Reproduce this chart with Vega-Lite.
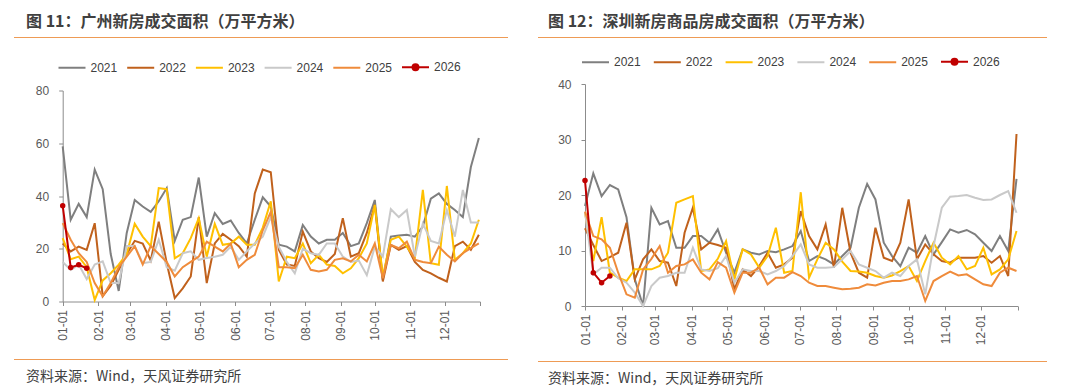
{
"$schema": "https://vega.github.io/schema/vega-lite/v6.json",
"background": "white",
"padding": {"left": 14, "top": 14, "right": 0, "bottom": 0},
"spacing": 30,
"resolve": {"scale": {"color": "independent"}, "legend": {"color": "independent"}},
"datasets": {
"gz": [
{"s":"2021","d":0,"v":58.8},{"s":"2021","d":7,"v":31},{"s":"2021","d":14,"v":37},{"s":"2021","d":21,"v":32},{"s":"2021","d":28,"v":50},{"s":"2021","d":35,"v":42.6},{"s":"2021","d":42,"v":18},{"s":"2021","d":49,"v":4},{"s":"2021","d":56,"v":26},{"s":"2021","d":63,"v":38.5},{"s":"2021","d":70,"v":36},{"s":"2021","d":77,"v":34},{"s":"2021","d":84,"v":38},{"s":"2021","d":91,"v":43},{"s":"2021","d":98,"v":23},{"s":"2021","d":105,"v":31},{"s":"2021","d":112,"v":32},{"s":"2021","d":119,"v":47},{"s":"2021","d":126,"v":24.6},{"s":"2021","d":133,"v":33.5},{"s":"2021","d":140,"v":29.4},{"s":"2021","d":147,"v":30.7},{"s":"2021","d":154,"v":26},{"s":"2021","d":161,"v":22},{"s":"2021","d":168,"v":31},{"s":"2021","d":175,"v":39.5},{"s":"2021","d":182,"v":36},{"s":"2021","d":189,"v":21.5},{"s":"2021","d":196,"v":20.8},{"s":"2021","d":203,"v":19},{"s":"2021","d":210,"v":29},{"s":"2021","d":217,"v":24.6},{"s":"2021","d":224,"v":22},{"s":"2021","d":231,"v":23.4},{"s":"2021","d":238,"v":23.4},{"s":"2021","d":245,"v":26},{"s":"2021","d":252,"v":21},{"s":"2021","d":259,"v":22},{"s":"2021","d":266,"v":29.7},{"s":"2021","d":273,"v":38.5},{"s":"2021","d":280,"v":8.2},{"s":"2021","d":287,"v":24.6},{"s":"2021","d":294,"v":25},{"s":"2021","d":301,"v":25.3},{"s":"2021","d":308,"v":24.6},{"s":"2021","d":315,"v":28.4},{"s":"2021","d":322,"v":39},{"s":"2021","d":329,"v":41},{"s":"2021","d":336,"v":37},{"s":"2021","d":343,"v":34.7},{"s":"2021","d":350,"v":32},{"s":"2021","d":357,"v":51},{"s":"2021","d":364,"v":62},
{"s":"2022","d":0,"v":22},{"s":"2022","d":7,"v":19},{"s":"2022","d":14,"v":20.8},{"s":"2022","d":21,"v":19.6},{"s":"2022","d":28,"v":29.7},{"s":"2022","d":35,"v":2},{"s":"2022","d":42,"v":6},{"s":"2022","d":49,"v":12},{"s":"2022","d":56,"v":18},{"s":"2022","d":63,"v":23},{"s":"2022","d":70,"v":22},{"s":"2022","d":77,"v":15.5},{"s":"2022","d":84,"v":30.3},{"s":"2022","d":91,"v":14.5},{"s":"2022","d":98,"v":1.3},{"s":"2022","d":105,"v":5},{"s":"2022","d":112,"v":9.5},{"s":"2022","d":119,"v":32},{"s":"2022","d":126,"v":7},{"s":"2022","d":133,"v":22},{"s":"2022","d":140,"v":25.6},{"s":"2022","d":147,"v":23.4},{"s":"2022","d":154,"v":21},{"s":"2022","d":161,"v":17},{"s":"2022","d":168,"v":41},{"s":"2022","d":175,"v":50},{"s":"2022","d":182,"v":49},{"s":"2022","d":189,"v":19.6},{"s":"2022","d":196,"v":14},{"s":"2022","d":203,"v":13.5},{"s":"2022","d":210,"v":26.5},{"s":"2022","d":217,"v":19},{"s":"2022","d":224,"v":16.4},{"s":"2022","d":231,"v":15},{"s":"2022","d":238,"v":18},{"s":"2022","d":245,"v":31.6},{"s":"2022","d":252,"v":17},{"s":"2022","d":259,"v":18.3},{"s":"2022","d":266,"v":26},{"s":"2022","d":273,"v":36.6},{"s":"2022","d":280,"v":7.6},{"s":"2022","d":287,"v":21.5},{"s":"2022","d":294,"v":19.6},{"s":"2022","d":301,"v":21},{"s":"2022","d":308,"v":15},{"s":"2022","d":315,"v":12},{"s":"2022","d":322,"v":10.7},{"s":"2022","d":329,"v":9},{"s":"2022","d":336,"v":7.6},{"s":"2022","d":343,"v":21},{"s":"2022","d":350,"v":22.7},{"s":"2022","d":357,"v":19.6},{"s":"2022","d":364,"v":25.3},
{"s":"2023","d":0,"v":24},{"s":"2023","d":7,"v":16},{"s":"2023","d":14,"v":17},{"s":"2023","d":21,"v":13},{"s":"2023","d":28,"v":0.6},{"s":"2023","d":35,"v":8},{"s":"2023","d":42,"v":10.7},{"s":"2023","d":49,"v":14},{"s":"2023","d":56,"v":18},{"s":"2023","d":63,"v":29.5},{"s":"2023","d":70,"v":24.6},{"s":"2023","d":77,"v":21},{"s":"2023","d":84,"v":43},{"s":"2023","d":91,"v":42.6},{"s":"2023","d":98,"v":16.4},{"s":"2023","d":105,"v":18.3},{"s":"2023","d":112,"v":24},{"s":"2023","d":119,"v":31.6},{"s":"2023","d":126,"v":17},{"s":"2023","d":133,"v":29.4},{"s":"2023","d":140,"v":21.5},{"s":"2023","d":147,"v":22},{"s":"2023","d":154,"v":24.6},{"s":"2023","d":161,"v":21.5},{"s":"2023","d":168,"v":21.5},{"s":"2023","d":175,"v":28},{"s":"2023","d":182,"v":38},{"s":"2023","d":189,"v":7.6},{"s":"2023","d":196,"v":17},{"s":"2023","d":203,"v":16.4},{"s":"2023","d":210,"v":22},{"s":"2023","d":217,"v":14.5},{"s":"2023","d":224,"v":17.7},{"s":"2023","d":231,"v":14},{"s":"2023","d":238,"v":13.5},{"s":"2023","d":245,"v":10.7},{"s":"2023","d":252,"v":12.6},{"s":"2023","d":259,"v":16.4},{"s":"2023","d":266,"v":22},{"s":"2023","d":273,"v":36.6},{"s":"2023","d":280,"v":9.5},{"s":"2023","d":287,"v":23.4},{"s":"2023","d":294,"v":24.6},{"s":"2023","d":301,"v":20.8},{"s":"2023","d":308,"v":16.4},{"s":"2023","d":315,"v":42.3},{"s":"2023","d":322,"v":14.5},{"s":"2023","d":329,"v":13.9},{"s":"2023","d":336,"v":43.8},{"s":"2023","d":343,"v":15.8},{"s":"2023","d":350,"v":18.3},{"s":"2023","d":357,"v":22},{"s":"2023","d":364,"v":31},
{"s":"2024","d":0,"v":15},{"s":"2024","d":7,"v":12},{"s":"2024","d":14,"v":14},{"s":"2024","d":21,"v":8.5},{"s":"2024","d":28,"v":14},{"s":"2024","d":35,"v":15.2},{"s":"2024","d":42,"v":7},{"s":"2024","d":49,"v":7},{"s":"2024","d":56,"v":21},{"s":"2024","d":63,"v":21},{"s":"2024","d":70,"v":14.5},{"s":"2024","d":77,"v":15},{"s":"2024","d":84,"v":23.4},{"s":"2024","d":91,"v":13},{"s":"2024","d":98,"v":11.7},{"s":"2024","d":105,"v":18.3},{"s":"2024","d":112,"v":19},{"s":"2024","d":119,"v":15.8},{"s":"2024","d":126,"v":16.5},{"s":"2024","d":133,"v":17},{"s":"2024","d":140,"v":17.7},{"s":"2024","d":147,"v":20.8},{"s":"2024","d":154,"v":15.8},{"s":"2024","d":161,"v":19},{"s":"2024","d":168,"v":22},{"s":"2024","d":175,"v":24.6},{"s":"2024","d":182,"v":32},{"s":"2024","d":189,"v":20.8},{"s":"2024","d":196,"v":15},{"s":"2024","d":203,"v":10.7},{"s":"2024","d":210,"v":20},{"s":"2024","d":217,"v":18.3},{"s":"2024","d":224,"v":17.7},{"s":"2024","d":231,"v":22},{"s":"2024","d":238,"v":22},{"s":"2024","d":245,"v":17},{"s":"2024","d":252,"v":15},{"s":"2024","d":259,"v":15.5},{"s":"2024","d":266,"v":10},{"s":"2024","d":273,"v":20.8},{"s":"2024","d":280,"v":17},{"s":"2024","d":287,"v":35},{"s":"2024","d":294,"v":32},{"s":"2024","d":301,"v":34.7},{"s":"2024","d":308,"v":17},{"s":"2024","d":315,"v":29.6},{"s":"2024","d":322,"v":23},{"s":"2024","d":329,"v":22},{"s":"2024","d":336,"v":34.7},{"s":"2024","d":343,"v":24.6},{"s":"2024","d":350,"v":42.3},{"s":"2024","d":357,"v":30},{"s":"2024","d":364,"v":30},
{"s":"2025","d":0,"v":29.7},{"s":"2025","d":7,"v":23.4},{"s":"2025","d":14,"v":18.3},{"s":"2025","d":21,"v":15},{"s":"2025","d":28,"v":7},{"s":"2025","d":35,"v":2},{"s":"2025","d":42,"v":7},{"s":"2025","d":49,"v":13},{"s":"2025","d":56,"v":17},{"s":"2025","d":63,"v":21},{"s":"2025","d":70,"v":14},{"s":"2025","d":77,"v":21},{"s":"2025","d":84,"v":18},{"s":"2025","d":91,"v":15},{"s":"2025","d":98,"v":9.5},{"s":"2025","d":105,"v":13},{"s":"2025","d":112,"v":15},{"s":"2025","d":119,"v":17},{"s":"2025","d":126,"v":22.7},{"s":"2025","d":133,"v":20.8},{"s":"2025","d":140,"v":19},{"s":"2025","d":147,"v":22},{"s":"2025","d":154,"v":13},{"s":"2025","d":161,"v":15.8},{"s":"2025","d":168,"v":17.7},{"s":"2025","d":175,"v":27},{"s":"2025","d":182,"v":34},{"s":"2025","d":189,"v":13},{"s":"2025","d":196,"v":13},{"s":"2025","d":203,"v":12.6},{"s":"2025","d":210,"v":17.7},{"s":"2025","d":217,"v":12},{"s":"2025","d":224,"v":11.4},{"s":"2025","d":231,"v":12},{"s":"2025","d":238,"v":15.8},{"s":"2025","d":245,"v":16.4},{"s":"2025","d":252,"v":15.2},{"s":"2025","d":259,"v":17.7},{"s":"2025","d":266,"v":15.2},{"s":"2025","d":273,"v":22},{"s":"2025","d":280,"v":8.8},{"s":"2025","d":287,"v":21.5},{"s":"2025","d":294,"v":20.2},{"s":"2025","d":301,"v":22.7},{"s":"2025","d":308,"v":15.8},{"s":"2025","d":315,"v":15},{"s":"2025","d":322,"v":14.5},{"s":"2025","d":329,"v":20.8},{"s":"2025","d":336,"v":17.7},{"s":"2025","d":343,"v":15.2},{"s":"2025","d":350,"v":18.3},{"s":"2025","d":357,"v":20.2},{"s":"2025","d":364,"v":22},
{"s":"2026","d":0,"v":36.3},{"s":"2026","d":7,"v":12.9},{"s":"2026","d":14,"v":13.9},{"s":"2026","d":21,"v":12.6}
],
"sz": [
{"s":"2021","d":0,"v":18},{"s":"2021","d":7,"v":23.9},{"s":"2021","d":14,"v":19.8},{"s":"2021","d":21,"v":21.8},{"s":"2021","d":28,"v":21},{"s":"2021","d":35,"v":16},{"s":"2021","d":42,"v":4.8},{"s":"2021","d":49,"v":0},{"s":"2021","d":56,"v":17.7},{"s":"2021","d":63,"v":14.7},{"s":"2021","d":70,"v":15.3},{"s":"2021","d":77,"v":10.5},{"s":"2021","d":84,"v":10.5},{"s":"2021","d":91,"v":12.6},{"s":"2021","d":98,"v":12.6},{"s":"2021","d":105,"v":11.4},{"s":"2021","d":112,"v":13.8},{"s":"2021","d":119,"v":9.6},{"s":"2021","d":126,"v":6},{"s":"2021","d":133,"v":10.2},{"s":"2021","d":140,"v":9.6},{"s":"2021","d":147,"v":9.3},{"s":"2021","d":154,"v":9.9},{"s":"2021","d":161,"v":9.7},{"s":"2021","d":168,"v":10.2},{"s":"2021","d":175,"v":10.8},{"s":"2021","d":182,"v":13.5},{"s":"2021","d":189,"v":8.1},{"s":"2021","d":196,"v":9},{"s":"2021","d":203,"v":8.4},{"s":"2021","d":210,"v":7.5},{"s":"2021","d":217,"v":9},{"s":"2021","d":224,"v":10.5},{"s":"2021","d":231,"v":17.7},{"s":"2021","d":238,"v":22},{"s":"2021","d":245,"v":19.2},{"s":"2021","d":252,"v":11.4},{"s":"2021","d":259,"v":9},{"s":"2021","d":266,"v":7.2},{"s":"2021","d":273,"v":10.5},{"s":"2021","d":280,"v":9.6},{"s":"2021","d":287,"v":12.6},{"s":"2021","d":294,"v":9.3},{"s":"2021","d":301,"v":11.5},{"s":"2021","d":308,"v":13.8},{"s":"2021","d":315,"v":13.2},{"s":"2021","d":322,"v":13.7},{"s":"2021","d":329,"v":12.9},{"s":"2021","d":336,"v":11.4},{"s":"2021","d":343,"v":9.9},{"s":"2021","d":350,"v":12.6},{"s":"2021","d":357,"v":9.9},{"s":"2021","d":364,"v":22.9},
{"s":"2022","d":0,"v":14},{"s":"2022","d":7,"v":11},{"s":"2022","d":14,"v":8.1},{"s":"2022","d":21,"v":8.8},{"s":"2022","d":28,"v":9.6},{"s":"2022","d":35,"v":15},{"s":"2022","d":42,"v":4.8},{"s":"2022","d":49,"v":8.4},{"s":"2022","d":56,"v":10.2},{"s":"2022","d":63,"v":8.1},{"s":"2022","d":70,"v":7.8},{"s":"2022","d":77,"v":3.6},{"s":"2022","d":84,"v":13.2},{"s":"2022","d":91,"v":17.7},{"s":"2022","d":98,"v":10.2},{"s":"2022","d":105,"v":11.4},{"s":"2022","d":112,"v":11},{"s":"2022","d":119,"v":10.5},{"s":"2022","d":126,"v":3},{"s":"2022","d":133,"v":6.6},{"s":"2022","d":140,"v":5.4},{"s":"2022","d":147,"v":7.2},{"s":"2022","d":154,"v":9.6},{"s":"2022","d":161,"v":6.9},{"s":"2022","d":168,"v":7.5},{"s":"2022","d":175,"v":8.7},{"s":"2022","d":182,"v":17.1},{"s":"2022","d":189,"v":12.6},{"s":"2022","d":196,"v":10.2},{"s":"2022","d":203,"v":14.7},{"s":"2022","d":210,"v":6.9},{"s":"2022","d":217,"v":17.7},{"s":"2022","d":224,"v":9.6},{"s":"2022","d":231,"v":6},{"s":"2022","d":238,"v":5.1},{"s":"2022","d":245,"v":14.1},{"s":"2022","d":252,"v":8.7},{"s":"2022","d":259,"v":8.1},{"s":"2022","d":266,"v":11.4},{"s":"2022","d":273,"v":19.2},{"s":"2022","d":280,"v":8.4},{"s":"2022","d":287,"v":11.1},{"s":"2022","d":294,"v":9.3},{"s":"2022","d":301,"v":8.1},{"s":"2022","d":308,"v":7.8},{"s":"2022","d":315,"v":8.7},{"s":"2022","d":322,"v":8.7},{"s":"2022","d":329,"v":8.7},{"s":"2022","d":336,"v":9},{"s":"2022","d":343,"v":7.8},{"s":"2022","d":350,"v":9},{"s":"2022","d":357,"v":5.4},{"s":"2022","d":364,"v":31},
{"s":"2023","d":0,"v":16.8},{"s":"2023","d":7,"v":8.1},{"s":"2023","d":14,"v":16},{"s":"2023","d":21,"v":6},{"s":"2023","d":28,"v":5.1},{"s":"2023","d":35,"v":4.5},{"s":"2023","d":42,"v":6.6},{"s":"2023","d":49,"v":6.6},{"s":"2023","d":56,"v":6.6},{"s":"2023","d":63,"v":7.2},{"s":"2023","d":70,"v":9.6},{"s":"2023","d":77,"v":18.6},{"s":"2023","d":84,"v":19.2},{"s":"2023","d":91,"v":19.8},{"s":"2023","d":98,"v":6.3},{"s":"2023","d":105,"v":6.6},{"s":"2023","d":112,"v":8.5},{"s":"2023","d":119,"v":11.7},{"s":"2023","d":126,"v":4.8},{"s":"2023","d":133,"v":10.2},{"s":"2023","d":140,"v":9.3},{"s":"2023","d":147,"v":6.9},{"s":"2023","d":154,"v":9},{"s":"2023","d":161,"v":14.1},{"s":"2023","d":168,"v":6},{"s":"2023","d":175,"v":6.3},{"s":"2023","d":182,"v":20.5},{"s":"2023","d":189,"v":5.1},{"s":"2023","d":196,"v":8.4},{"s":"2023","d":203,"v":11.4},{"s":"2023","d":210,"v":10.2},{"s":"2023","d":217,"v":8},{"s":"2023","d":224,"v":6.3},{"s":"2023","d":231,"v":6.2},{"s":"2023","d":238,"v":6},{"s":"2023","d":245,"v":5.4},{"s":"2023","d":252,"v":5.1},{"s":"2023","d":259,"v":5.5},{"s":"2023","d":266,"v":6.3},{"s":"2023","d":273,"v":7.2},{"s":"2023","d":280,"v":4.5},{"s":"2023","d":287,"v":8.1},{"s":"2023","d":294,"v":11.4},{"s":"2023","d":301,"v":8.7},{"s":"2023","d":308,"v":7.5},{"s":"2023","d":315,"v":9},{"s":"2023","d":322,"v":6.6},{"s":"2023","d":329,"v":7.2},{"s":"2023","d":336,"v":10.5},{"s":"2023","d":343,"v":5.7},{"s":"2023","d":350,"v":6.6},{"s":"2023","d":357,"v":8.4},{"s":"2023","d":364,"v":13.5},
{"s":"2024","d":0,"v":17},{"s":"2024","d":7,"v":5.7},{"s":"2024","d":14,"v":6.9},{"s":"2024","d":21,"v":6.9},{"s":"2024","d":28,"v":5},{"s":"2024","d":35,"v":4.2},{"s":"2024","d":42,"v":2.4},{"s":"2024","d":49,"v":0},{"s":"2024","d":56,"v":3.6},{"s":"2024","d":63,"v":5.1},{"s":"2024","d":70,"v":5.4},{"s":"2024","d":77,"v":6},{"s":"2024","d":84,"v":6},{"s":"2024","d":91,"v":10.5},{"s":"2024","d":98,"v":6.6},{"s":"2024","d":105,"v":6.3},{"s":"2024","d":112,"v":6.8},{"s":"2024","d":119,"v":9},{"s":"2024","d":126,"v":4.2},{"s":"2024","d":133,"v":6.6},{"s":"2024","d":140,"v":6.3},{"s":"2024","d":147,"v":6.3},{"s":"2024","d":154,"v":5.7},{"s":"2024","d":161,"v":6.3},{"s":"2024","d":168,"v":7.2},{"s":"2024","d":175,"v":9},{"s":"2024","d":182,"v":11.1},{"s":"2024","d":189,"v":7.5},{"s":"2024","d":196,"v":6.9},{"s":"2024","d":203,"v":6.9},{"s":"2024","d":210,"v":7},{"s":"2024","d":217,"v":8.4},{"s":"2024","d":224,"v":9.9},{"s":"2024","d":231,"v":7.5},{"s":"2024","d":238,"v":6.9},{"s":"2024","d":245,"v":6.3},{"s":"2024","d":252,"v":5.1},{"s":"2024","d":259,"v":6},{"s":"2024","d":266,"v":5.4},{"s":"2024","d":273,"v":7.2},{"s":"2024","d":280,"v":8.4},{"s":"2024","d":287,"v":2.1},{"s":"2024","d":294,"v":10.8},{"s":"2024","d":301,"v":17.7},{"s":"2024","d":308,"v":19.7},{"s":"2024","d":315,"v":19.8},{"s":"2024","d":322,"v":20},{"s":"2024","d":329,"v":19.5},{"s":"2024","d":336,"v":19.1},{"s":"2024","d":343,"v":19.2},{"s":"2024","d":350,"v":20},{"s":"2024","d":357,"v":20.7},{"s":"2024","d":364,"v":16.8},
{"s":"2025","d":0,"v":17},{"s":"2025","d":7,"v":12.6},{"s":"2025","d":14,"v":12},{"s":"2025","d":21,"v":10.5},{"s":"2025","d":28,"v":6},{"s":"2025","d":35,"v":2.1},{"s":"2025","d":42,"v":1.5},{"s":"2025","d":49,"v":6.6},{"s":"2025","d":56,"v":8.5},{"s":"2025","d":63,"v":10.8},{"s":"2025","d":70,"v":6},{"s":"2025","d":77,"v":7.2},{"s":"2025","d":84,"v":7.5},{"s":"2025","d":91,"v":8.4},{"s":"2025","d":98,"v":6},{"s":"2025","d":105,"v":4.8},{"s":"2025","d":112,"v":7.9},{"s":"2025","d":119,"v":6.9},{"s":"2025","d":126,"v":2.4},{"s":"2025","d":133,"v":6},{"s":"2025","d":140,"v":6},{"s":"2025","d":147,"v":6.9},{"s":"2025","d":154,"v":3.9},{"s":"2025","d":161,"v":5.1},{"s":"2025","d":168,"v":5.1},{"s":"2025","d":175,"v":6.1},{"s":"2025","d":182,"v":5.4},{"s":"2025","d":189,"v":4.2},{"s":"2025","d":196,"v":3.6},{"s":"2025","d":203,"v":3.6},{"s":"2025","d":210,"v":3.3},{"s":"2025","d":217,"v":3},{"s":"2025","d":224,"v":3.1},{"s":"2025","d":231,"v":3.3},{"s":"2025","d":238,"v":3.9},{"s":"2025","d":245,"v":3.7},{"s":"2025","d":252,"v":4.2},{"s":"2025","d":259,"v":4.5},{"s":"2025","d":266,"v":4.5},{"s":"2025","d":273,"v":4.8},{"s":"2025","d":280,"v":5.4},{"s":"2025","d":287,"v":0.9},{"s":"2025","d":294,"v":4.5},{"s":"2025","d":301,"v":5.4},{"s":"2025","d":308,"v":6.2},{"s":"2025","d":315,"v":5.5},{"s":"2025","d":322,"v":5.7},{"s":"2025","d":329,"v":4.8},{"s":"2025","d":336,"v":3.9},{"s":"2025","d":343,"v":3.6},{"s":"2025","d":350,"v":6},{"s":"2025","d":357,"v":6.9},{"s":"2025","d":364,"v":6.3},
{"s":"2026","d":0,"v":22.6},{"s":"2026","d":7,"v":6},{"s":"2026","d":14,"v":4.2},{"s":"2026","d":21,"v":5.4}
]
},
"hconcat": [
{
"spacing": 14.5,
"resolve": {"scale": {"color": "independent"}, "legend": {"color": "independent"}},
"vconcat": [
{"width": 494, "height": 1, "view": {"fill": "#EE9B55", "stroke": null}, "data": {"values": []}, "mark": "point",
 "title": {"text": "图 11：广州新房成交面积（万平方米）", "anchor": "start", "dx": 12, "offset": 7, "fontSize": 16, "fontWeight": "bold", "font": "Noto Sans CJK SC", "color": "#404040"}},
{"width": 466, "height": 211, "data": {"name": "gz"},
 "encoding": {
  "x": {"field": "d", "type": "quantitative", "scale": {"domain": [0, 365], "range": [48.7, 466], "nice": false, "zero": false},
        "axis": {"title": " ", "titleFontSize": 2, "titlePadding": 2, "values": [0,31,59,90,120,151,181,212,243,273,304,334,365], "labelExpr": "datum.value >= 365 ? '' : timeFormat(datetime(2001, 0, 1 + datum.value), '%m-%d')", "labelAngle": -90, "labelPadding": 4, "tickSize": 4, "labelOverlap": false, "labelFlush": false}},
  "y": {"field": "v", "type": "quantitative", "scale": {"domain": [0, 80], "nice": false},
        "axis": {"title": null, "values": [0,20,40,60,80], "offset": -48.7, "labelPadding": 10, "tickSize": 4}}
 },
 "layer": [
  {"mark": {"type": "line", "strokeWidth": 2},
   "encoding": {"color": {"field": "s", "type": "nominal",
     "scale": {"domain": ["2021","2022","2023","2024","2025","2026"], "range": ["#7F7F7F","#C0611C","#FFC000","#C9C9C9","#EF8B3B","#C00000"]},
     "legend": {"orient": "top", "direction": "horizontal", "title": " ", "titleOrient": "left", "titlePadding": 43.5, "titleFontSize": 11, "symbolType": "stroke", "symbolSize": 729, "symbolStrokeWidth": 2, "labelFontSize": 12, "labelColor": "#404040", "labelFont": "Liberation Sans", "labelOffset": 4, "columnPadding": 5.7, "offset": 16.2, "padding": 0,
       "encode": {"symbols": {"update": {"shape": {"signal": "datum.value === '2026' ? 'M-1,0H1M-0.22,0A0.22,0.22,0,1,1,0.22,0A0.22,0.22,0,1,1,-0.22,0Z' : 'stroke'"}, "fill": {"signal": "datum.value === '2026' ? '#C00000' : 'transparent'"}}}}}}}},
  {"transform": [{"filter": "datum.s === '2026'"}], "mark": {"type": "point", "filled": true, "size": 30, "color": "#C00000", "opacity": 1}}
 ]},
{"width": 494, "height": 1, "view": {"fill": "#EE9B55", "stroke": null}, "data": {"values": []}, "mark": "point",
 "title": {"text": "资料来源：Wind，天风证券研究所", "orient": "bottom", "anchor": "start", "dx": 12, "offset": 10, "fontSize": 14, "fontWeight": "normal", "font": "Noto Sans CJK SC", "color": "#404040"}}
]
},
{
"spacing": 9,
"resolve": {"scale": {"color": "independent"}, "legend": {"color": "independent"}},
"vconcat": [
{"width": 509, "height": 1, "view": {"fill": "#EE9B55", "stroke": null}, "data": {"values": []}, "mark": "point",
 "title": {"text": "图 12：深圳新房商品房成交面积（万平方米）", "anchor": "start", "dx": 10, "offset": 7, "fontSize": 16, "fontWeight": "bold", "font": "Noto Sans CJK SC", "color": "#404040"}},
{"width": 479.7, "height": 222, "data": {"name": "sz"},
 "encoding": {
  "x": {"field": "d", "type": "quantitative", "scale": {"domain": [0, 365], "range": [47, 479.7], "nice": false, "zero": false},
        "axis": {"title": " ", "titleFontSize": 2, "titlePadding": 5, "values": [0,31,59,90,120,151,181,212,243,273,304,334,365], "labelExpr": "datum.value >= 365 ? '' : timeFormat(datetime(2001, 0, 1 + datum.value), '%m-%d')", "labelAngle": -90, "labelPadding": 4, "tickSize": 4, "labelOverlap": false, "labelFlush": false}},
  "y": {"field": "v", "type": "quantitative", "scale": {"domain": [0, 40], "nice": false},
        "axis": {"title": null, "values": [0,10,20,30,40], "offset": -47, "labelPadding": 10, "tickSize": 4}}
 },
 "layer": [
  {"mark": {"type": "line", "strokeWidth": 2},
   "encoding": {"color": {"field": "s", "type": "nominal",
     "scale": {"domain": ["2021","2022","2023","2024","2025","2026"], "range": ["#7F7F7F","#C0611C","#FFC000","#C9C9C9","#EF8B3B","#C00000"]},
     "legend": {"orient": "top", "direction": "horizontal", "title": " ", "titleOrient": "left", "titlePadding": 43, "titleFontSize": 11, "symbolType": "stroke", "symbolSize": 729, "symbolStrokeWidth": 2, "labelFontSize": 12, "labelColor": "#404040", "labelFont": "Liberation Sans", "labelOffset": 4, "columnPadding": 8.8, "offset": 15.5, "padding": 0,
       "encode": {"symbols": {"update": {"shape": {"signal": "datum.value === '2026' ? 'M-1,0H1M-0.22,0A0.22,0.22,0,1,1,0.22,0A0.22,0.22,0,1,1,-0.22,0Z' : 'stroke'"}, "fill": {"signal": "datum.value === '2026' ? '#C00000' : 'transparent'"}}}}}}}},
  {"transform": [{"filter": "datum.s === '2026'"}], "mark": {"type": "point", "filled": true, "size": 30, "color": "#C00000", "opacity": 1}}
 ]},
{"width": 509, "height": 1, "view": {"fill": "#EE9B55", "stroke": null}, "data": {"values": []}, "mark": "point",
 "title": {"text": "资料来源：Wind，天风证券研究所", "orient": "bottom", "anchor": "start", "dx": 10, "offset": 10, "fontSize": 14, "fontWeight": "normal", "font": "Noto Sans CJK SC", "color": "#404040"}}
]
}
],
"config": {
 "view": {"stroke": null},
 "font": "Liberation Sans",
 "axis": {"domainColor": "#8C8C8C", "tickColor": "#8C8C8C", "labelColor": "#595959", "labelFontSize": 12, "labelFont": "Liberation Sans", "grid": false, "domainWidth": 1, "tickWidth": 1}
}
}
